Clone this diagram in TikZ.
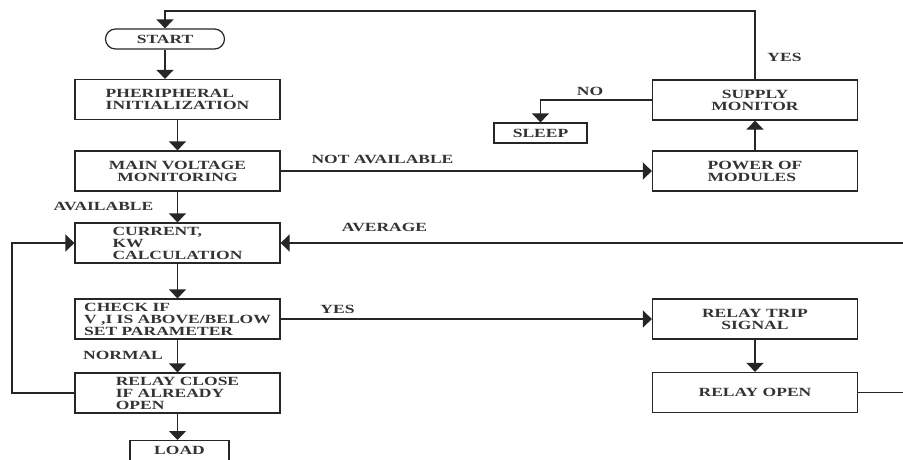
\documentclass[tikz,border=0pt]{standalone}
\usepackage{fontspec}
\newfontfamily\chartfont{Liberation Serif Bold}[FakeStretch=1.4]
\usetikzlibrary{arrows.meta,positioning,shapes.misc}
\tikzset{
  box/.style ={draw,minimum width=205pt,minimum height=40pt,inner sep=2pt,align=left},
  term/.style={draw,rounded rectangle,minimum width=123pt,minimum height=20pt,inner sep=2pt},
  ar/.style  ={-{Triangle[length=9pt,width=17pt]}},
  lbl/.style ={inner sep=1pt},
}
\begin{document}
\begin{tikzpicture}[x=1pt,y=-1pt,line width=1.2pt,draw=black!85,text=black!80,
    font=\chartfont\fontsize{12.5}{12}\selectfont]
  \clip (0,0) rectangle (903,459);
  % main column
  \node[term] (start) at (165,39) {START};
  \node[box] (periph) at (177.5,99.5) {PHERIPHERAL\\INITIALIZATION};
  \node[box,align=center] (mainv) at (177.5,171) {MAIN VOLTAGE\\MONITORING};
  \node[box] (calc) at (177.5,243) {CURRENT,\\KW\\CALCULATION};
  \node[box] (check) at (177.5,319) {CHECK IF\\V ,I IS ABOVE/BELOW\\SET PARAMETER};
  \node[box] (rclose) at (177.5,393) {RELAY CLOSE\\IF ALREADY\\OPEN};
  \node[box,minimum width=99pt,minimum height=20pt,anchor=north] (load) at (179.5,440) {LOAD};
  % right column
  \node[box,align=center] (supply) at (755,100) {SUPPLY\\MONITOR};
  \node[box] (power) at (755,171) {POWER OF\\MODULES};
  \node[box,minimum width=93pt,minimum height=20pt] (sleep) at (540.5,133) {SLEEP};
  \node[box,align=center] (trip) at (755,319) {RELAY TRIP\\SIGNAL};
  \node[box] (ropen) at (755,392.5) {RELAY OPEN};
  % free ends
  \coordinate (top) at (755,11);
  \coordinate (avgin) at (903,243);
  \coordinate (ropenout) at (903,392.5);
  \coordinate (loopx) at (12,393);
  % arrows
  \draw[ar] (start.south) -- (start.south |- periph.north);
  \foreach \a/\b in {periph/mainv,mainv/calc,calc/check,check/rclose,rclose/load}
    \draw[ar] (\a.south) -- (\a.south |- \b.north);
  \draw[ar] (mainv) -- (power);
  \draw[ar] (power) -- (supply);
  \draw[ar] (check) -- (trip);
  \draw[ar] (trip) -- (ropen);
  \draw[ar] (supply.north) -- (top) -| (start.north);
  \draw[ar] (supply.west) -| (sleep.north);
  \draw[ar] (avgin) -- (calc.east);
  \draw (ropen.east) -- (ropenout);
  \draw[ar] (rclose.west) -- (loopx) |- (calc.west);
  % labels
  \node[lbl] (lavail) at (103.5,206.5) {AVAILABLE};
  \node[lbl] (lnotav) at (382.5,159.5) {NOT AVAILABLE};
  \node[lbl] (lno) at (590,91) {NO};
  \node[lbl] (lyes1) at (784.5,57.5) {YES};
  \node[lbl] (lavg) at (384.5,227.5) {AVERAGE};
  \node[lbl] (lyes2) at (337.5,309) {YES};
  \node[lbl] (lnorm) at (123,355.5) {NORMAL};
\end{tikzpicture}
\end{document}
